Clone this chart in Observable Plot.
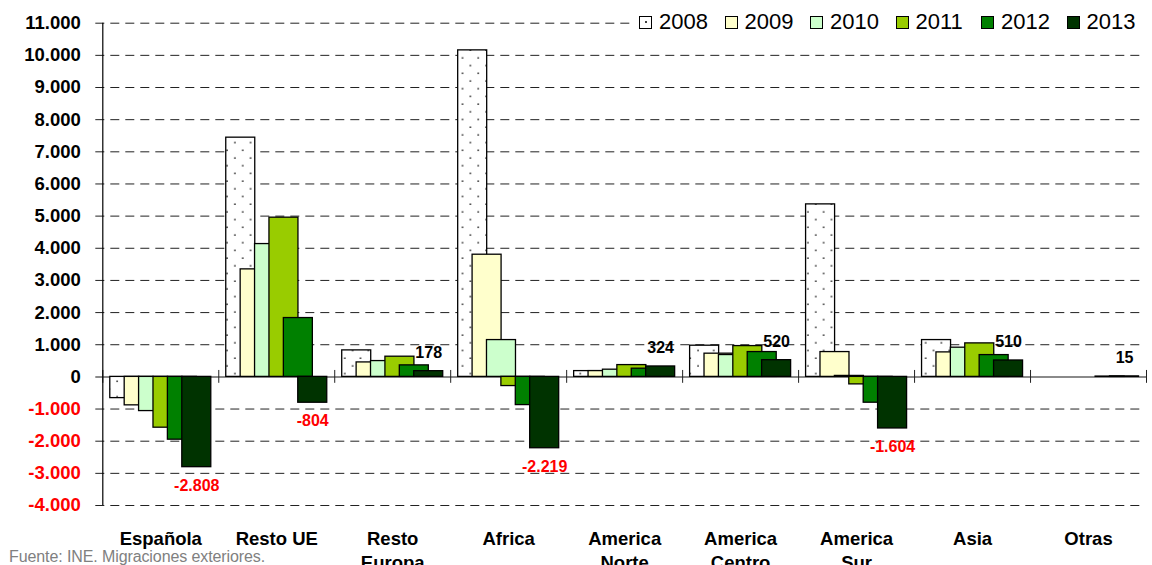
<!DOCTYPE html>
<html><head><meta charset="utf-8">
<script src="https://cdn.jsdelivr.net/npm/d3@7"></script>
<script src="https://cdn.jsdelivr.net/npm/@observablehq/plot@0.6"></script>
<style>
body{margin:0;background:#fff;font-family:"Liberation Sans",Arial,sans-serif;}
#wrap{position:relative;width:1152px;height:565px;overflow:hidden;}
#legend{position:absolute;top:8px;left:632px;width:514px;height:28px;background:#fff;display:flex;align-items:center;padding-left:7px;box-sizing:border-box;}
.item{display:flex;align-items:center;width:85.5px;flex:none;}
.sw{width:11px;height:11px;border:1.5px solid #000;flex:none;margin-right:7px;position:relative;}
.lt{font-size:22px;color:#000;line-height:22px;}
#source{position:absolute;left:9px;top:549px;font-size:16px;line-height:16px;color:#808080;white-space:nowrap;letter-spacing:-0.1px;}
</style></head><body><div id="wrap"></div><script>
const categories = ["Española","Resto UE","Resto Europa","Africa","America Norte","America Centro","America Sur","Asia","Otras"];
const categoryLabels = ["Española","Resto UE","Resto\nEuropa","Africa","America\nNorte","America\nCentro","America\nSur","Asia","Otras"];
const years = ["2008","2009","2010","2011","2012","2013"];
const v2008 = [-660, 7440, 824, 10155, 180, 970, 5365, 1145, 0];
const v2009 = [-885, 3344, 450, 3800, 180, 722, 772, 762, 0];
const v2010 = [-1063, 4131, 492, 1145, 224, 680, 30, 908, 0];
const v2011 = [-1580, 4952, 628, -285, 367, 958, -233, 1042, 0];
const v2012 = [-1953, 1830, 358, -877, 255, 772, -803, 678, 10];
const v2013 = [-2808, -804, 178, -2219, 324, 520, -1604, 510, 15];
const yearColors = ["url(#dots)", "#FFFFCC", "#CCFFCC", "#99CC00", "#008000", "#003300"];
const yTicks = [-4000,-3000,-2000,-1000,0,1000,2000,3000,4000,5000,6000,7000,8000,9000,10000,11000];

const series = [v2008, v2009, v2010, v2011, v2012, v2013];
const loc = d3.formatLocale({decimal: ",", thousands: ".", grouping: [3], minus: "-"});
const fmt = loc.format(",d");
const labelMap = new Map(categories.map((c, i) => [c, categoryLabels[i]]));

const W = 1152, H = 565;
const mL = 102.3, mR = 6, mT = 22.7, mB = 60;
const band = (W - mL - mR) / categories.length;
const barW = 29, step = 14.4;

const barMarks = series.map((vals, i) => Plot.barY(
  categories.map((c, j) => ({cat: c, value: vals[j]})),
  {x: "cat", y: "value", fill: yearColors[i], stroke: "#000", strokeWidth: 1.3,
   insetLeft: (band - barW) / 2, insetRight: (band - barW) / 2, dx: (i - 2.5) * step}
));

const lastData = categories.map((c, j) => ({cat: c, value: v2013[j]}));
const fontFamily = "'Liberation Sans', Arial, sans-serif";

const svg = Plot.plot({
  width: W, height: H,
  marginLeft: mL, marginRight: mR, marginTop: mT, marginBottom: mB,
  style: {fontFamily, background: "#fff", overflow: "visible"},
  x: {domain: categories, padding: 0, round: false, axis: null},
  y: {domain: [-4000, 11000], axis: null},
  marks: [
    Plot.ruleY(yTicks.filter(d => d !== 0), {stroke: "#222", strokeWidth: 1, strokeDasharray: "9,6", insetLeft: -7, insetRight: 6}),
    Plot.ruleY([0], {stroke: "#8a8a8a", strokeWidth: 2, insetLeft: -7}),
    Plot.ruleX(categories, {x: d => d, dx: -band / 2, y1: -200, y2: 200, stroke: "#222"}),
    Plot.ruleX([categories[categories.length - 1]], {x: d => d, dx: band / 2, y1: -200, y2: 200, stroke: "#222"}),
    ...barMarks,
    Plot.ruleX([categories[0]], {x: d => d, dx: -band / 2, stroke: "#000", strokeWidth: 1.2}),
    Plot.text(yTicks.filter(d => d >= 0), {y: d => d, text: d => fmt(d), frameAnchor: "left", textAnchor: "end", dx: -22, fill: "#000", fontSize: 18.5, fontWeight: "bold"}),
    Plot.text(yTicks.filter(d => d < 0), {y: d => d, text: d => fmt(d), frameAnchor: "left", textAnchor: "end", dx: -22, fill: "#FF0000", fontSize: 18.5, fontWeight: "bold"}),
    Plot.text(lastData.filter(d => d.value >= 0), {x: "cat", y: "value", text: d => fmt(d.value), dx: 2.5 * step, dy: -18.5, fill: "#000", fontSize: 16, fontWeight: "bold"}),
    Plot.text(lastData.filter(d => d.value < 0), {x: "cat", y: "value", text: d => fmt(d.value), dx: 2.5 * step, dy: 18.5, fill: "#FF0000", fontSize: 16, fontWeight: "bold"}),
    Plot.axisX({tickSize: 0, tickPadding: 23, fontSize: 18.5, fontWeight: "bold", lineHeight: 1.27, tickFormat: d => labelMap.get(d), label: null, fill: "#000"})
  ]
});

const defs = d3.select(svg).insert("defs", ":first-child");
const pat = defs.append("pattern").attr("id", "dots").attr("patternUnits", "userSpaceOnUse")
  .attr("width", 15.7).attr("height", 15.4);
pat.append("rect").attr("width", 15.7).attr("height", 15.4).attr("fill", "#fff");
pat.append("circle").attr("cx", 4).attr("cy", 4).attr("r", 0.9).attr("fill", "#333");
pat.append("circle").attr("cx", 11.85).attr("cy", 11.7).attr("r", 0.9).attr("fill", "#333");

const wrap = document.getElementById("wrap");
wrap.appendChild(svg);

const legend = document.createElement("div");
legend.id = "legend";
years.forEach((y, i) => {
  const it = document.createElement("div"); it.className = "item";
  const sw = document.createElement("div"); sw.className = "sw";
  sw.style.background = i === 0 ? "#fff" : yearColors[i];
  if (i === 0) {
    const dot = document.createElement("div");
    dot.style.cssText = "position:absolute;left:4.5px;top:4.5px;width:2px;height:2px;border-radius:1px;background:#000;";
    sw.appendChild(dot);
  }
  const t = document.createElement("span"); t.className = "lt"; t.textContent = y;
  it.appendChild(sw); it.appendChild(t); legend.appendChild(it);
});
wrap.appendChild(legend);

const src = document.createElement("div");
src.id = "source"; src.textContent = "Fuente: INE. Migraciones exteriores.";
wrap.appendChild(src);
</script></body></html>
